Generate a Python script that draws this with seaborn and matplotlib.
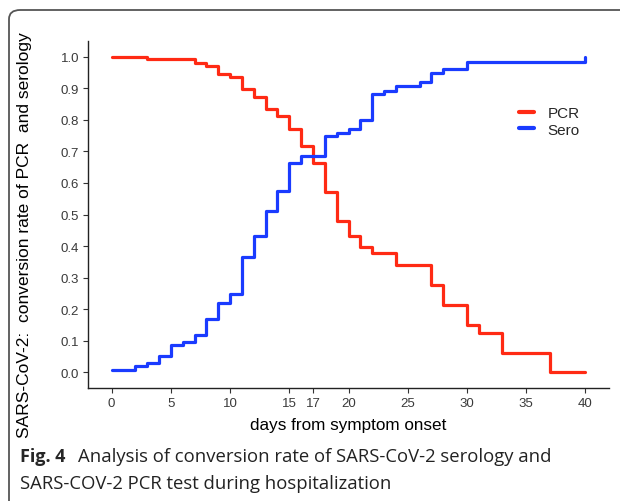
import numpy as np
import pandas as pd
import matplotlib.pyplot as plt
import seaborn as sns
from matplotlib.patches import FancyBboxPatch

# step values (value holds from that day on)
pcr_days = [0, 3, 7, 8, 9, 10, 11, 12, 13, 14, 15, 16, 17, 18, 19, 20, 21, 22,
            24, 27, 28, 30, 31, 33, 37, 40]
pcr_rate = [1.0, 0.992, 0.979, 0.971, 0.946, 0.936, 0.898, 0.874, 0.836, 0.811,
            0.771, 0.716, 0.662, 0.571, 0.480, 0.432, 0.396, 0.379, 0.341, 0.278,
            0.214, 0.149, 0.125, 0.062, 0.0, 0.0]

sero_days = [0, 2, 3, 4, 5, 6, 7, 8, 9, 10, 11, 12, 13, 14, 15, 16, 18, 19, 20,
             21, 22, 23, 24, 26, 27, 28, 30, 40]
sero_rate = [0.007, 0.020, 0.028, 0.050, 0.087, 0.097, 0.118, 0.168, 0.220,
             0.249, 0.366, 0.433, 0.510, 0.573, 0.664, 0.687, 0.748, 0.758,
             0.771, 0.801, 0.883, 0.893, 0.908, 0.921, 0.948, 0.961, 0.982, 1.0]

x_ticks = [0, 5, 10, 15, 17, 20, 25, 30, 35, 40]
y_ticks = [0.0, 0.1, 0.2, 0.3, 0.4, 0.5, 0.6, 0.7, 0.8, 0.9, 1.0]

df = pd.concat([
    pd.DataFrame({'day': pcr_days, 'rate': pcr_rate, 'test': 'PCR'}),
    pd.DataFrame({'day': sero_days, 'rate': sero_rate, 'test': 'Sero'}),
])

sns.set_style('white')
plt.rcParams['font.family'] = ['Liberation Sans', 'DejaVu Sans']

W, H = 620, 502
fig = plt.figure(figsize=(W / 100, H / 100), dpi=100)

# rounded frame around the figure (only top and left edges are visible)
fig.patches.append(FancyBboxPatch((9 / W, -0.2), 1.2, (H - 11) / H + 0.2,
                                  boxstyle='round,pad=0,rounding_size=0.018',
                                  transform=fig.transFigure, fill=False,
                                  edgecolor='#555555', linewidth=1.3))

ax = fig.add_axes([88 / W, (H - 389) / H, (609 - 88) / W, (389 - 42) / H])
ax.set_facecolor('none')

sns.lineplot(data=df, x='day', y='rate', hue='test',
             palette={'PCR': '#ff2a14', 'Sero': '#1a3bff'},
             drawstyle='steps-post', linewidth=2.3, ax=ax)

ax.set_xlim(-2, 42)
ax.set_ylim(-0.05, 1.05)
ax.set_xticks(x_ticks)
ax.set_xticklabels([str(t) for t in x_ticks])
ax.set_yticks(y_ticks)
ax.set_yticklabels([f'{t:.1f}' for t in y_ticks])
ax.tick_params(axis='both', length=3.5, width=0.8, color='#333333',
               labelsize=9.5, labelcolor='#3a3a3a', pad=3, bottom=True, left=True)
for s in ['top', 'right']:
    ax.spines[s].set_visible(False)
for s in ['left', 'bottom']:
    ax.spines[s].set_color('#222222')
    ax.spines[s].set_linewidth(1.0)

ax.set_xlabel('days from symptom onset', fontsize=12.3, color='black', labelpad=6)
ax.set_ylabel('SARS-CoV-2:  conversion rate of PCR  and serology',
              fontsize=12.5, color='black')
ax.yaxis.set_label_coords(-0.107, 0.444)

leg = ax.legend(title=None, frameon=False, loc='center left',
                bbox_to_anchor=(0.8, 0.768), fontsize=11, handlelength=1.0,
                handletextpad=0.9, labelspacing=0.15)
for h in leg.get_lines():
    h.set_linewidth(3)

fig.text(20 / W, 1 - 457 / H, 'Fig. 4', fontsize=13, fontweight='bold',
         family=['Open Sans', 'DejaVu Sans'], va='center')
fig.text(78 / W, 1 - 457 / H,
         'Analysis of conversion rate of SARS-CoV-2 serology and',
         fontsize=13.3, family=['Open Sans', 'DejaVu Sans'], va='center',
         color='#222222')
fig.text(20 / W, 1 - 484 / H,
         'SARS-COV-2 PCR test during hospitalization',
         fontsize=13.3, family=['Open Sans', 'DejaVu Sans'], va='center',
         color='#222222')

fig.savefig('out.png', dpi=100)
